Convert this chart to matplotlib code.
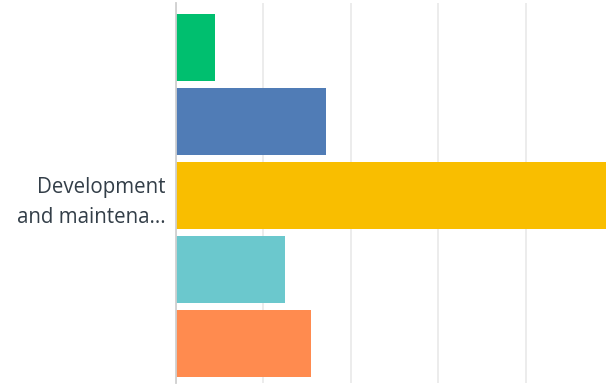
import matplotlib
matplotlib.use("Agg")
import matplotlib.pyplot as plt

category = "Development\nand maintena..."
series_names = ["A", "B", "C", "D", "E"]
values = [4.5, 17.2, 52.0, 12.5, 15.5]
colors = ["#00BF6F", "#507CB6", "#F9BE00", "#6BC8CD", "#FF8B4F"]
grid_ticks = [0, 10, 20, 30, 40]

W, H = 606, 389
fig = plt.figure(figsize=(W / 100, H / 100), dpi=100)
ax = fig.add_axes([175.5 / W, 6 / H, 1 - 175.5 / W, 380 / H])

ys = list(range(len(values)))
ax.barh(ys, values, height=0.905, color=colors, zorder=3)

ax.set_xlim(0, 49.2)
ax.set_ylim(4.53, -0.60)
ax.set_xticks(grid_ticks)
ax.xaxis.grid(True, color="#EBEBEB", linewidth=1.3, zorder=0)
ax.tick_params(axis="x", length=0, labelbottom=False)
ax.set_yticks([2])
ax.set_yticklabels([category], fontsize=14.8, color="#333E48",
                   fontfamily="Open Sans", linespacing=1.55)
ax.tick_params(axis="y", length=0, pad=7)
for s in ["top", "right", "bottom"]:
    ax.spines[s].set_visible(False)
ax.spines["left"].set_color("#D0D0D0")
ax.spines["left"].set_linewidth(1.3)
ax.spines["left"].set_zorder(4)

fig.savefig("out.png", dpi=100)
